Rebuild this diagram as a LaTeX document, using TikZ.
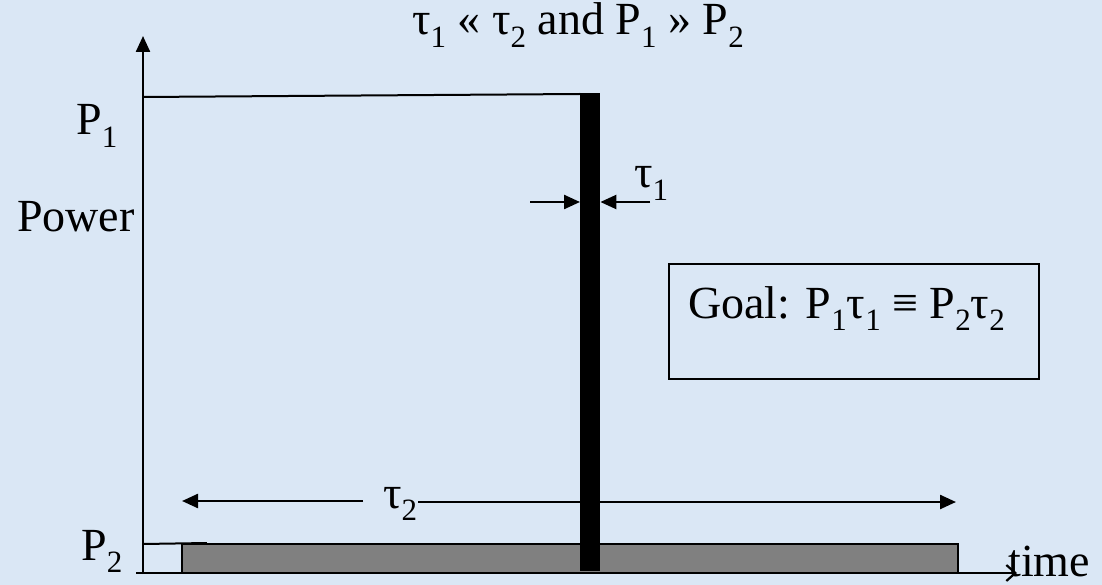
\documentclass[tikz,border=0pt]{standalone}
\usepackage{fontspec}
\setmainfont{Liberation Serif}
\usetikzlibrary{arrows.meta}
\definecolor{bgblue}{RGB}{218,231,245}
\definecolor{bargray}{RGB}{128,128,128}
\newcommand\lsub[2]{\raisebox{-0.27em}{\fontsize{#1}{#1}\selectfont #2}}
\tikzset{
  lbl/.style={inner sep=0pt, anchor=base west, font=\fontsize{46}{50}\selectfont},
  thin/.style={line width=2pt},
  arr/.style={line width=2.4pt, -{Triangle[length=16pt,width=14pt]}},
  xarr/.style={line width=2.4pt, -{Straight Barb[length=9pt,width=16pt,line width=2.2pt]}}
}
\begin{document}
\begin{tikzpicture}[x=1pt,y=-1pt]
\fill[bgblue] (0,0) rectangle (1102,585);
\useasboundingbox (0,0) rectangle (1102,585);
% axes
\coordinate (origin) at (143,574);
\coordinate (ytop) at (143,36);
\coordinate (xstart) at (136,573);
\coordinate (xend) at (1017,573);
% low power long pulse
\node (low) [draw, thin, fill=bargray, inner sep=0pt, minimum width=776pt, minimum height=29pt, anchor=north west] at (181,543) {};
% high power short pulse
\node (pulse) [fill=black, inner sep=0pt, minimum width=20pt, minimum height=478pt, anchor=north west] at (580,93) {};
\draw[arr] (origin) -- (ytop);
\draw[xarr] (xstart) -- (xend);
% P1 level
\coordinate (p1s) at (143,97);
\coordinate (p1e) at (580,94);
\draw[thin] (p1s) -- (p1e);
% P2 level
\coordinate (p2s) at (143,544);
\coordinate (p2e) at (207,543);
\draw[thin] (p2s) -- (p2e);
% tau1 arrows
\coordinate (t1l) at (530,202);
\coordinate (t1r) at (650,202);
\draw[arr] (t1l) -- (pulse.west |- t1l);
\draw[arr] (t1r) -- (pulse.east |- t1r);
% tau2 arrows
\coordinate (t2l) at (363,501);
\coordinate (t2le) at (182,501);
\coordinate (t2r) at (418,502);
\coordinate (t2re) at (956,502);
\draw[arr] (t2l) -- (t2le);
\draw[arr] (t2r) -- (t2re);
% goal box
\node (goalbox) [draw, thin, inner sep=0pt, minimum width=370pt, minimum height=115pt, anchor=north west] at (668,263) {};
% labels
\node (title) [lbl] at (412,35) {τ\lsub{31}{1} « τ\lsub{31}{2} and P\lsub{31}{1} » P\lsub{31}{2}};
\node (lp1) [lbl] at (76,135) {P\lsub{31}{1}};
\node (lpow) [lbl] at (17,232) {Power};
\node (lp2) [lbl] at (81,560) {P\lsub{31}{2}};
\node (lt1) [lbl] at (634,188) {τ\lsub{31}{1}};
\node (lt2) [lbl] at (383,508) {τ\lsub{31}{2}};
\node (goal) [lbl] at (688,318) {Goal: P\lsub{31}{1}τ\lsub{31}{1} ≡ P\lsub{31}{2}τ\lsub{31}{2}};
\node (ltime) [lbl] at (1008,576) {time};
\end{tikzpicture}
\end{document}
